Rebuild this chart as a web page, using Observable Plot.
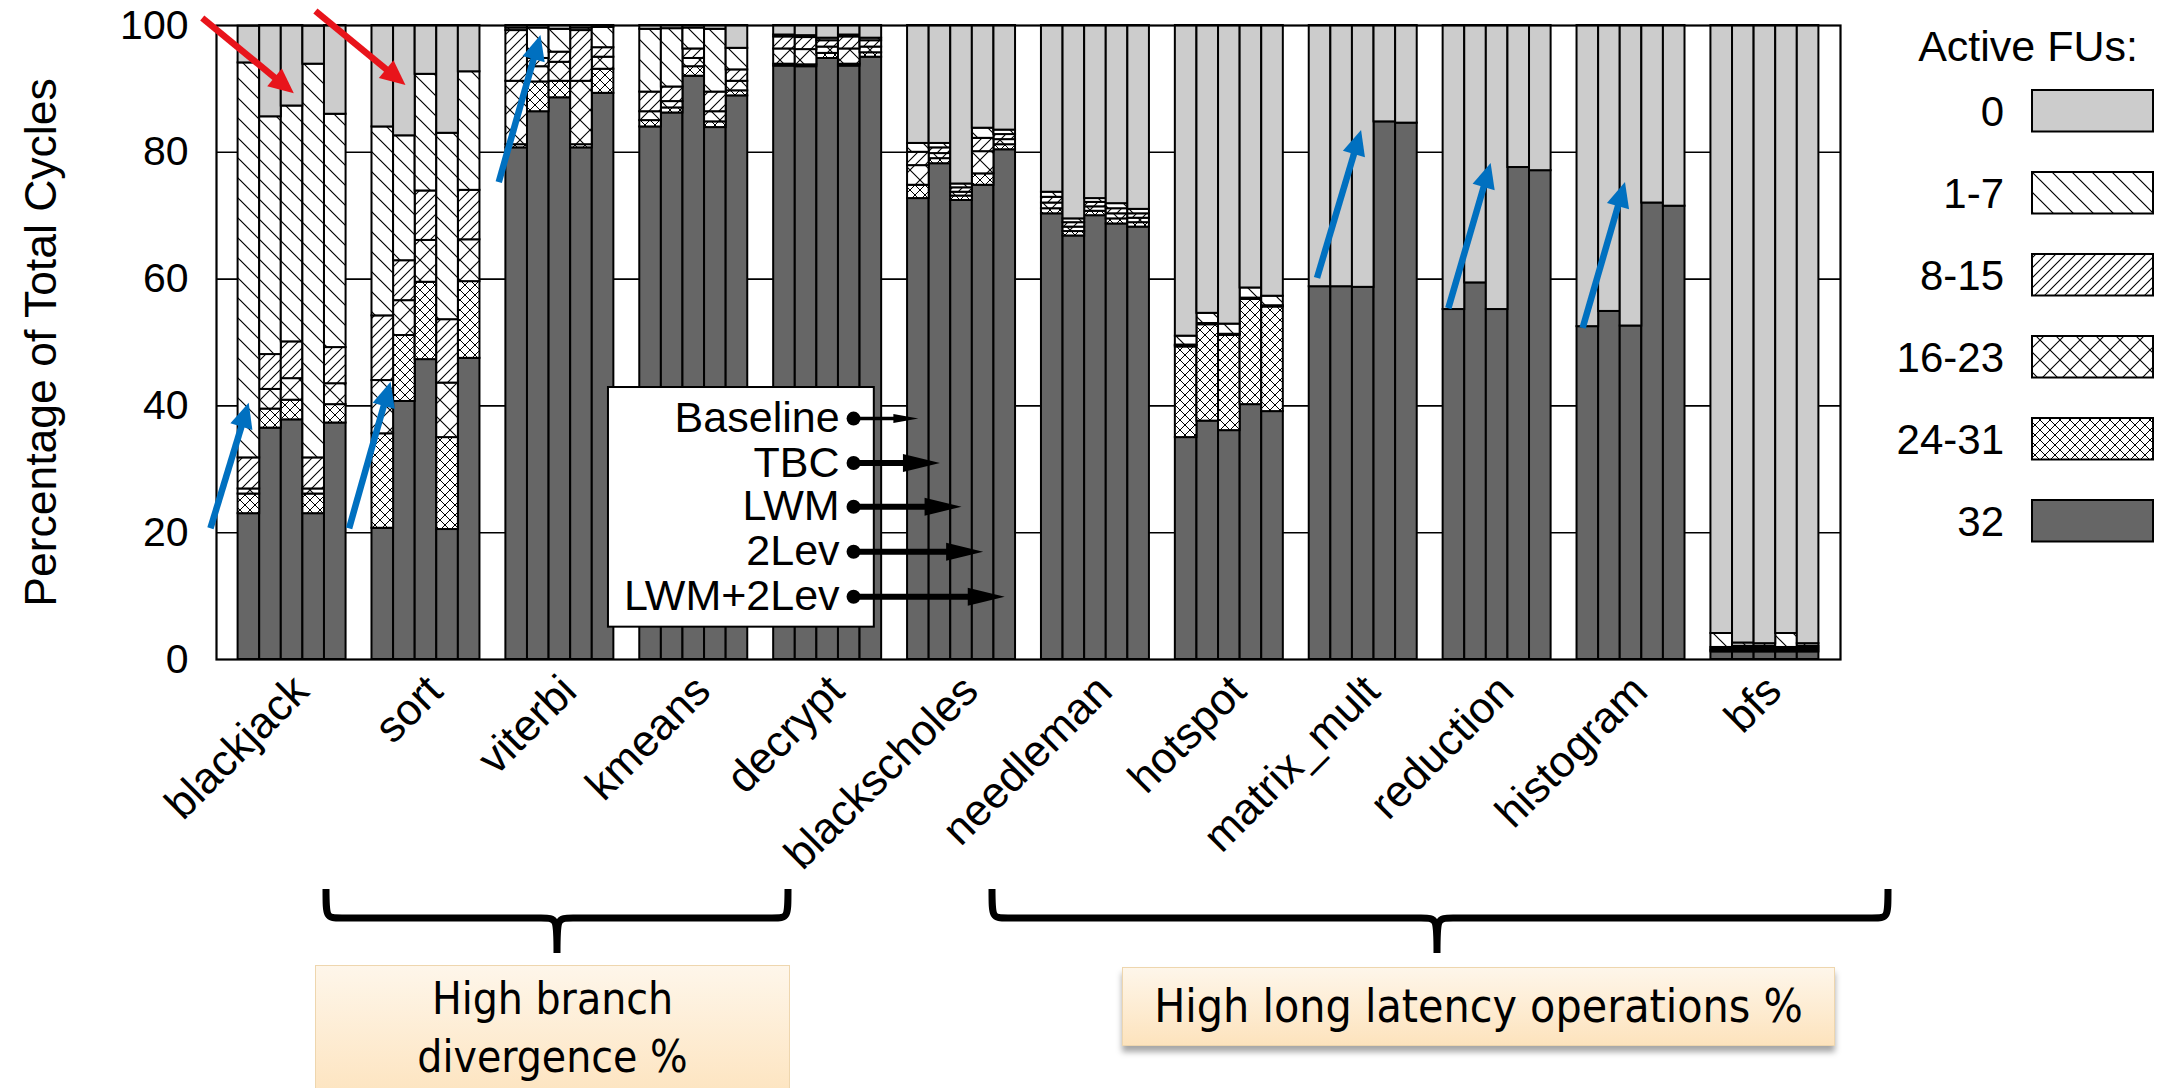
<!DOCTYPE html>
<html><head><meta charset="utf-8">
<script src="https://cdn.jsdelivr.net/npm/d3@7"></script>
<script src="https://cdn.jsdelivr.net/npm/@observablehq/plot@0.6"></script>
<style>
body{margin:0;background:#fff;}
#wrap{position:relative;width:2167px;height:1088px;overflow:hidden;font-family:"Liberation Sans",Arial,Helvetica,sans-serif;}
#wrap svg.plot{position:absolute;left:0;top:0;}
.box{position:absolute;box-sizing:border-box;border:1px solid #eed6ae;background:linear-gradient(#fef6ea,#fde3bd);font-family:"DejaVu Sans Condensed","DejaVu Sans",sans-serif;font-size:44px;color:#000;text-align:center;}
</style></head><body>
<svg width="0" height="0" style="position:absolute">
<defs>
<pattern id="p17" patternUnits="userSpaceOnUse" width="20" height="20"><rect width="20" height="20" fill="#fff"/><path d="M-5,-5L25,25M-5,15L5,25M15,-5L25,5" stroke="#000" stroke-width="1.2"/></pattern>
<pattern id="p815" patternUnits="userSpaceOnUse" width="10" height="10"><rect width="10" height="10" fill="#fff"/><path d="M-3,13L13,-3M-3,3L3,-3M7,13L13,7" stroke="#000" stroke-width="1.1"/></pattern>
<pattern id="p1623" patternUnits="userSpaceOnUse" width="20" height="20"><rect width="20" height="20" fill="#fff"/><path d="M0,0L20,20M0,20L20,0" stroke="#000" stroke-width="1.1"/></pattern>
<pattern id="p2431" patternUnits="userSpaceOnUse" width="10" height="10"><rect width="10" height="10" fill="#fff"/><path d="M0,0L10,10M0,10L10,0" stroke="#000" stroke-width="1"/></pattern>
</defs></svg>
<div id="wrap"></div>
<script>
// ---------- data ----------
const groups = ["blackjack","sort","viterbi","kmeans","decrypt","blackscholes","needleman","hotspot","matrix_mult","reduction","histogram","bfs"];
const methods = ["Baseline","TBC","LWM","2Lev","LWM+2Lev"];
const categories = ["32","24-31","16-23","8-15","1-7","0"]; // bottom to top
const legendOrder = ["0","1-7","8-15","16-23","24-31","32"];
const yTicks = [0,20,40,60,80,100];

const fu32 = [
  [23.0,36.5,37.8,23.0,37.3],[20.7,40.7,47.3,20.5,47.5],[80.7,86.4,88.6,80.7,89.3],[84.0,86.2,92.0,83.9,88.9],
  [93.6,93.5,94.8,93.6,95.0],[72.7,78.2,72.4,74.8,80.4],[70.3,66.8,70.0,68.7,68.2],[35.0,37.6,36.1,40.2,39.1],
  [58.8,58.8,58.7,84.8,84.6],[55.2,59.4,55.2,77.6,77.1],[52.5,54.9,52.6,72.0,71.5],[1.2,1.2,1.2,1.2,1.2]];
const fu24_31 = [
  [3.1,3.0,3.1,3.1,2.9],[14.9,10.4,12.2,14.5,12.1],[0.5,4.7,2.6,0.5,3.8],[1.0,0.8,1.5,0.9,0.8],
  [0.3,0.3,0.8,0.3,0.7],[2.1,0.8,0.7,1.8,0.8],[0.8,0.7,0.7,0.8,0.7],[14.3,15.2,15.0,16.6,16.5],
  [0,0,0,0,0],[0,0,0,0,0],[0,0,0,0,0],[0.2,0.3,0.3,0.2,0.3]];
const fu16_23 = [
  [0.8,3.1,3.4,0.8,3.3],[8.4,5.5,6.6,8.6,6.6],[10.0,2.4,3.0,10.0,1.9],[1.4,1.0,1.3,1.6,1.5],
  [2.4,2.4,1.0,2.4,0.9],[3.1,0.8,0.6,3.5,0.8],[0.9,0.7,0.7,0.8,0.7],[0.2,0.1,0.1,0.1,0.1],
  [0,0,0,0,0],[0,0,0,0,0],[0,0,0,0,0],[0.2,0.3,0.3,0.2,0.3]];
const fu8_15 = [
  [4.9,5.5,5.8,4.9,5.7],[10.2,6.3,7.8,10.0,7.8],[8.0,1.3,1.6,8.0,1.5],[3.1,2.3,1.5,3.1,1.8],
  [1.9,1.9,1.0,1.9,1.0],[2.1,0.9,0.7,2.1,0.8],[0.9,0.7,0.7,0.8,0.7],[0.1,0.1,0.1,0.1,0.1],
  [0,0,0,0,0],[0,0,0,0,0],[0,0,0,0,0],[0.3,0.3,0.3,0.3,0.3]];
const fu1_7 = [
  [62.3,37.5,37.2,62.1,36.8],[29.8,19.7,18.4,29.4,18.7],[0.4,4.8,3.6,0.4,3.2],[9.9,9.2,3.3,9.9,3.4],
  [0.3,0.3,0.4,0.3,0.4],[1.4,0.7,0.6,1.6,0.7],[0.8,0.6,0.6,0.8,0.7],[1.4,1.6,1.6,1.6,1.5],
  [0,0,0,0,0],[0,0,0,0,0],[0,0,0,0,0],[2.2,0.5,0.4,2.2,0.4]];
const fu0 = [
  [5.8,14.4,12.7,6.0,14.0],[16.0,17.4,7.7,17.0,7.3],[0.4,0.4,0.6,0.4,0.3],[0.6,0.5,0.4,0.6,3.6],
  [1.5,1.6,2.0,1.5,2.0],[18.6,18.6,25.0,16.2,16.5],[26.3,30.5,27.3,28.1,29.0],[49.0,45.4,47.1,41.4,42.7],
  [41.2,41.2,41.3,15.2,15.4],[44.8,40.6,44.8,22.4,22.9],[47.5,45.1,47.4,28.0,28.5],[95.9,97.4,97.5,95.9,97.5]];

// annotation arrows: group index, x offsets (bar units from group start), y values
const blueArrows = [
  {g:0, dx1:-1.28, y1:20.7, dx2:0.49, y2:40.5},
  {g:1, dx1:-1.06, y1:20.7, dx2:0.86, y2:43.8},
  {g:2, dx1:-0.33, y1:75.3, dx2:1.60, y2:98.5},
  {g:8, dx1:0.36, y1:60.2, dx2:2.40, y2:83.5},
  {g:9, dx1:0.24, y1:55.4, dx2:2.20, y2:78.3},
  {g:10, dx1:0.26, y1:52.3, dx2:2.22, y2:75.3}];
const redArrows = [
  {g:0, dx1:-1.66, y1:101.2, dx2:2.58, y2:89.3},
  {g:1, dx1:-2.62, y1:102.3, dx2:1.55, y2:90.6}];
const keyY = [38.0, 31.0, 24.1, 17.0, 9.9];
const keyBox = [{x1:18.15, x2:30.46, y1:5.1, y2:42.9}];
const keyDotX = 29.5;
const keyTargetGroup = 5;

// ---------- layout ----------
const W = 2167, H = 880, ML = 216, MR = 327, MT = 25, MB = H - 659;
const LEAD = 1, PERIOD = 6.2, XMAX = 75.2;
const KX = (W - ML - MR) / XMAX, KY = (H - MT - MB) / 100;
const fills = {"0":"#cccccc","1-7":"url(#p17)","8-15":"url(#p815)","16-23":"url(#p1623)","24-31":"url(#p2431)","32":"#666666"};
const series = {"32":fu32,"24-31":fu24_31,"16-23":fu16_23,"8-15":fu8_15,"1-7":fu1_7,"0":fu0};

const rows = [];
groups.forEach((gname, g) => methods.forEach((m, i) => {
  let acc = 0;
  for (const c of categories) {
    const v = series[c][g][i];
    if (v > 0) rows.push({group:gname, method:m, cat:c, x1:LEAD+PERIOD*g+i, x2:LEAD+PERIOD*g+i+1, y1:acc, y2:acc+v});
    acc += v;
  }
}));
const groupLabels = groups.map((name, g) => ({name, x: LEAD + PERIOD*g + 2.5}));

function arrowParts(list, len, hw) {
  const shafts = [], heads = [];
  list.forEach((a, k) => {
    const {x1, y1, x2, y2} = a;
    const dx = (x2-x1)*KX, dy = -(y2-y1)*KY, L = Math.hypot(dx, dy);
    const ux = dx/L, uy = dy/L, nx = -uy, ny = ux;
    const toData = (px, py) => ({id:k, x: x2 + px/KX, y: y2 - py/KY});
    const bx = -ux*len, by = -uy*len;
    heads.push(toData(0,0), toData(bx+nx*hw, by+ny*hw), toData(bx-nx*hw, by-ny*hw));
    const b = toData(bx*0.7, by*0.7);
    shafts.push({x1, y1, x2: b.x, y2: b.y});
  });
  return {shafts, heads};
}
const toAbs = a => ({x1: LEAD+PERIOD*a.g+a.dx1, y1:a.y1, x2: LEAD+PERIOD*a.g+a.dx2, y2:a.y2});
const blue = arrowParts(blueArrows.map(toAbs), 25, 11.5);
const red = arrowParts(redArrows.map(toAbs), 25, 11.5);
const keyRows = methods.map((m, i) => ({m, y: keyY[i], tip: LEAD + PERIOD*keyTargetGroup + i + 0.5}));
const keyThin = arrowParts(keyRows.slice(0,1).map(r => ({x1:keyDotX, y1:r.y, x2:r.tip, y2:r.y})), 25, 4.5);
const keyThick = arrowParts(keyRows.slice(1).map(r => ({x1:keyDotX, y1:r.y, x2:r.tip, y2:r.y})), 37, 9);

const marks = [
  Plot.ruleY([20,40,60,80], {stroke:"#000", strokeWidth:1.6}),
  ...categories.map(c => Plot.rect(rows.filter(r => r.cat === c), {x1:"x1", x2:"x2", y1:"y1", y2:"y2", fill: fills[c], stroke:"#000", strokeWidth:2})),
  Plot.frame({stroke:"#000", strokeWidth:2.2}),
  Plot.text(groupLabels, {x:"x", y:0, text:"name", rotate:-45, textAnchor:"end", lineAnchor:"bottom", dx:19, dy:34, fontSize:44}),
  Plot.text(["Percentage of Total Cycles"], {frameAnchor:"left", text:d=>d, rotate:-90, dx:-175, fontSize:44.5, textAnchor:"middle", lineAnchor:"middle"}),
  // key box
  Plot.rect(keyBox, {x1:"x1", x2:"x2", y1:"y1", y2:"y2", fill:"#fff", stroke:"#000", strokeWidth:2}),
  Plot.text(keyRows, {x: keyDotX, y:"y", text:"m", textAnchor:"end", dx:-14, fontSize:43}),
  Plot.link(keyThin.shafts, {x1:"x1", y1:"y1", x2:"x2", y2:"y2", stroke:"#000", strokeWidth:3.5}),
  Plot.link(keyThick.shafts, {x1:"x1", y1:"y1", x2:"x2", y2:"y2", stroke:"#000", strokeWidth:6}),
  Plot.line(keyThin.heads, {x:"x", y:"y", z:"id", fill:"#000", stroke:"none"}),
  Plot.line(keyThick.heads, {x:"x", y:"y", z:"id", fill:"#000", stroke:"none"}),
  Plot.dot(keyRows, {x: keyDotX, y:"y", r:7, fill:"#000"}),
  // blue and red annotation arrows
  Plot.link(blue.shafts, {x1:"x1", y1:"y1", x2:"x2", y2:"y2", stroke:"#0070c0", strokeWidth:6.5}),
  Plot.line(blue.heads, {x:"x", y:"y", z:"id", fill:"#0070c0", stroke:"none"}),
  Plot.link(red.shafts, {x1:"x1", y1:"y1", x2:"x2", y2:"y2", stroke:"#e8141b", strokeWidth:6.5}),
  Plot.line(red.heads, {x:"x", y:"y", z:"id", fill:"#e8141b", stroke:"none"})
];

const chart = Plot.plot({
  width: W, height: H, marginLeft: ML, marginRight: MR, marginTop: MT, marginBottom: MB,
  style: {fontFamily: '"Liberation Sans", Arial, Helvetica, sans-serif', fontSize: "41px", color: "#000", background: "transparent", overflow: "visible"},
  x: {domain: [0, XMAX], axis: null},
  y: {domain: [0, 100], ticks: yTicks, tickSize: 0, tickPadding: 28, label: null},
  marks
});
chart.classList.add("plot");
const wrap = document.getElementById("wrap");
wrap.appendChild(chart);

// ---------- right legend + braces overlay ----------
const ov = d3.select(wrap).append("svg").attr("width", W).attr("height", 1088)
  .style("position","absolute").style("left","0").style("top","0").style("pointer-events","none")
  .style("font-family",'"Liberation Sans", Arial, sans-serif');
ov.append("text").attr("x", 2138).attr("y", 46).attr("dy","0.35em").attr("text-anchor","end").attr("font-size", 43).text("Active FUs:");
legendOrder.forEach((c, k) => {
  const top = 90 + k*82;
  ov.append("rect").attr("x", 2032).attr("y", top).attr("width", 121).attr("height", 41.5)
    .attr("fill", fills[c]).attr("stroke", "#000").attr("stroke-width", 2);
  ov.append("text").attr("x", 2004).attr("y", top + 21).attr("dy","0.35em").attr("text-anchor","end").attr("font-size", 42).text(c);
});
function brace(xL, xR, xC, yT, yB, yN) {
  const r = 16;
  return `M${xL},${yT} C${xL},${yB} ${xL},${yB} ${xL+r},${yB} L${xC-r},${yB} C${xC},${yB} ${xC},${yB} ${xC},${yN} M${xC},${yN} C${xC},${yB} ${xC},${yB} ${xC+r},${yB} L${xR-r},${yB} C${xR},${yB} ${xR},${yB} ${xR},${yT}`;
}
ov.append("path").attr("d", brace(326, 788, 557, 889, 918, 953)).attr("fill","none").attr("stroke","#000").attr("stroke-width",7);
ov.append("path").attr("d", brace(992, 1888, 1437, 889, 918, 953)).attr("fill","none").attr("stroke","#000").attr("stroke-width",7);

const b1 = document.createElement("div");
b1.className = "box";
Object.assign(b1.style, {left:"315px", top:"965px", width:"475px", height:"140px", lineHeight:"58px", paddingTop:"4px"});
b1.innerHTML = "High branch<br>divergence %";
wrap.appendChild(b1);
const b2 = document.createElement("div");
b2.className = "box";
Object.assign(b2.style, {left:"1122px", top:"967px", width:"713px", height:"79px", lineHeight:"77px", fontSize:"46px", boxShadow:"0 6px 6px rgba(0,0,0,0.35)"});
b2.textContent = "High long latency operations %";
wrap.appendChild(b2);
</script>
</body></html>
